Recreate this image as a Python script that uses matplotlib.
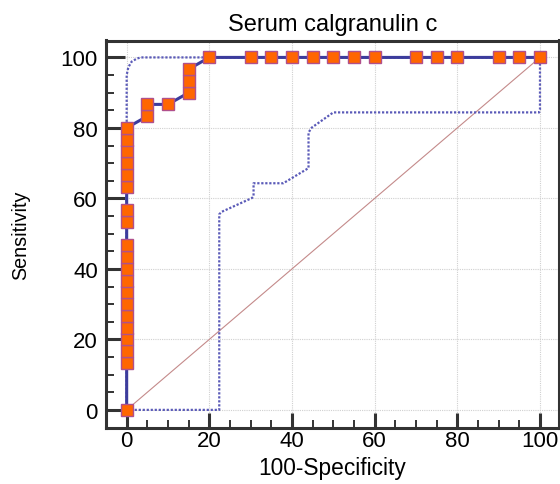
import matplotlib
matplotlib.use("Agg")
import matplotlib.pyplot as plt
from matplotlib.ticker import MultipleLocator

plt.rcParams['font.family'] = ['Liberation Sans', 'DejaVu Sans']

# ROC curve points (100-Specificity, Sensitivity)
roc_x = [0, 0, 0, 0, 0, 0, 0, 0, 0, 0, 0, 0, 0, 0, 0, 0, 0, 0, 0, 0,
         5, 5, 10, 15, 15, 15, 20, 30, 35, 40, 45, 50, 55, 60, 70, 75, 80, 90, 95, 100]
roc_y = [0, 13.33, 16.67, 20, 23.33, 26.67, 30, 33.33, 36.67, 40, 43.33, 46.67,
         53.33, 56.67, 63.33, 66.67, 70, 73.33, 76.67, 80,
         83.33, 86.67, 86.67, 90, 93.33, 96.67, 100, 100, 100, 100, 100, 100, 100, 100,
         100, 100, 100, 100, 100, 100]

# 95% confidence bounds
upper_x = [0, 0, 0.4, 1.2, 2.5, 3.5, 100]
upper_y = [0, 95, 97.2, 98.8, 99.7, 100, 100]
lower_x = [0, 22.4, 22.4, 23.0, 30.3, 30.7, 30.7, 37.9, 44.0, 44.0, 44.8, 50.0, 99.8, 100, 100]
lower_y = [0, 0, 55.5, 56.2, 60.1, 60.6, 64.3, 64.3, 68.6, 78.7, 80.1, 84.4, 84.4, 85.2, 100]

# reference diagonal
diag_x = [0, 100]
diag_y = [0, 100]

title = "Serum calgranulin c"
xlabel = "100-Specificity"
ylabel = "Sensitivity"
major_ticks = [0, 20, 40, 60, 80, 100]

fig = plt.figure(figsize=(5.6, 4.85), dpi=100)
ax = fig.add_axes([106/560, (485-428.5)/485, (559-106)/560, (428.5-41.5)/485])

ax.set_xlim(-5, 104.6)
ax.set_ylim(-5, 104.8)

ax.set_xticks(major_ticks)
ax.set_yticks(major_ticks)
ax.xaxis.set_minor_locator(MultipleLocator(5))
ax.yaxis.set_minor_locator(MultipleLocator(5))

ax.grid(True, which='major', color='#d0d0d0', linestyle=(0, (1, 1)), linewidth=0.8, zorder=0)
ax.set_axisbelow(True)

ax.plot(diag_x, diag_y, color='#c48a8a', linewidth=0.8, zorder=2)
ax.plot(upper_x, upper_y, color='#5a5ab8', linewidth=1.6, linestyle=(0, (1, 0.8)), zorder=3)
ax.plot(lower_x, lower_y, color='#5a5ab8', linewidth=1.6, linestyle=(0, (1, 0.8)), zorder=3)
ax.plot(roc_x, roc_y, color='#3c3c9c', linewidth=2.2, zorder=4,
        marker='s', markersize=8.0, markerfacecolor='#ff6600',
        markeredgecolor='#b0508c', markeredgewidth=1.0, clip_on=False)

for s in ax.spines.values():
    s.set_linewidth(2.2)
    s.set_color('#333333')

ax.tick_params(which='both', direction='in', color='#333333', labelsize=16)
ax.tick_params(axis='x', which='major', length=10.8, width=2.2, pad=2)
ax.tick_params(axis='y', which='major', length=13.7, width=2.2, pad=5.8)
ax.tick_params(which='minor', length=5.8, width=1.4)

ax.set_title(title, fontsize=17, pad=7.3)
ax.set_xlabel(xlabel, fontsize=16.4, labelpad=3.5)
ax.set_ylabel(ylabel, fontsize=14.2)
ax.yaxis.set_label_coords(-0.168, 0.5)

fig.savefig("out.png", dpi=100)
